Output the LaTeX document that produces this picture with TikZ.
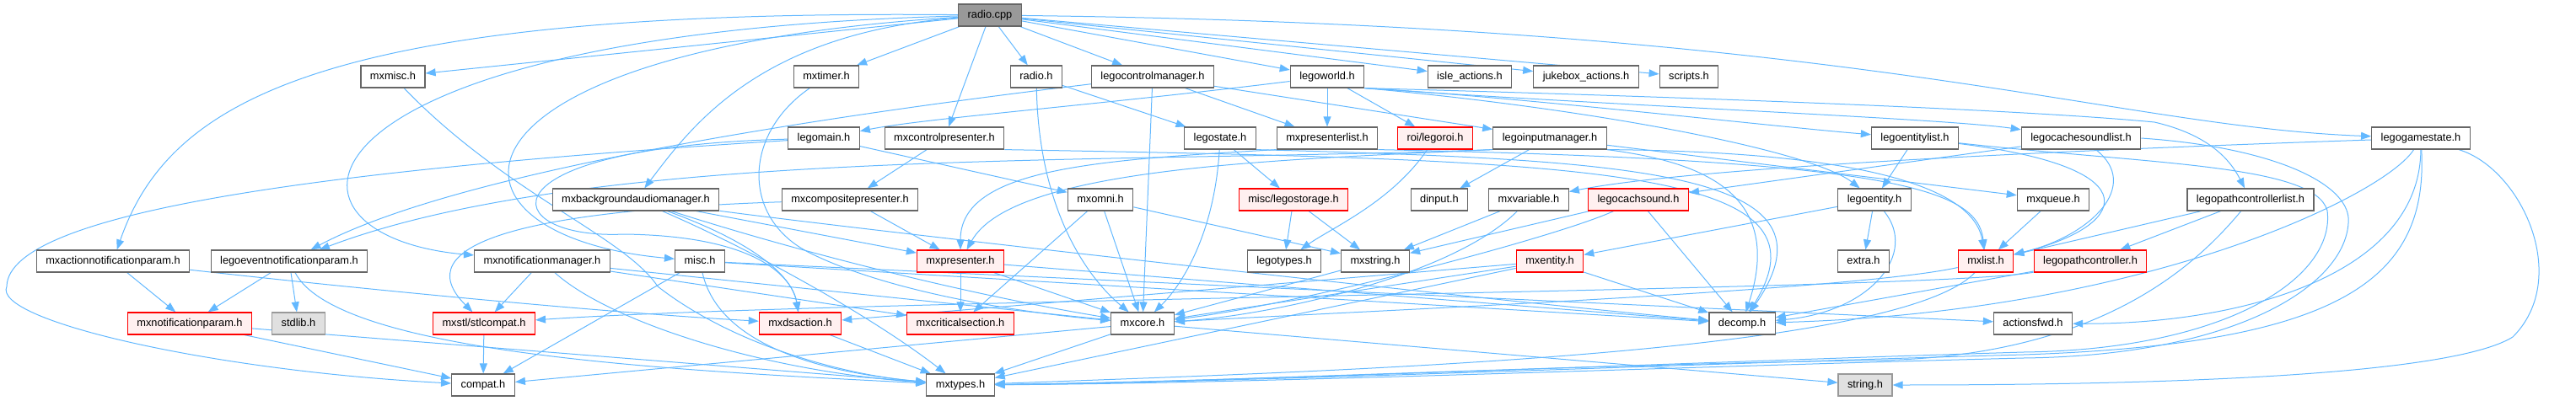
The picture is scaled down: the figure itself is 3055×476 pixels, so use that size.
\documentclass[tikz,border=0pt]{standalone}
\usepackage{fontspec}
\setmainfont{Liberation Sans}
\usetikzlibrary{arrows.meta,backgrounds}
\definecolor{edgeblue}{HTML}{63B8FF}
\definecolor{boxgray}{HTML}{666666}
\definecolor{hotfill}{HTML}{FFF0F0}
\definecolor{sysfill}{HTML}{E0E0E0}
\definecolor{sysdraw}{HTML}{999999}
\begin{document}
\begin{tikzpicture}[x=1pt,y=-1pt,
  file/.style={draw=boxgray,fill=white,line width=1.2pt,minimum height=26pt,inner xsep=11pt,inner ysep=0pt,
    text height=9.3pt,text depth=2.7pt,font=\fontsize{12.8}{14}\selectfont},
  hot/.style={file,draw=red,fill=hotfill},
  sys/.style={file,draw=sysdraw,fill=sysfill},
  root/.style={file,fill=sysdraw},
  dep/.style={draw=edgeblue,line width=1pt,-{Triangle[length=12pt,width=9pt]}}] %Início do grafo
  \useasboundingbox (0,0) rectangle (3055,476); %Margens
    %Arquivo principal
  \node[root] (cpp) at (1174,18) {radio.cpp};
    %Linha 1
  \node[file] (mxmisc) at (466,91) {mxmisc.h};
  \node[file] (mxtimer) at (980,91) {mxtimer.h};
  \node[file] (radioh) at (1229,91) {radio.h};
  \node[file] (legoctrlmgr) at (1367,91) {legocontrolmanager.h};
  \node[file] (legoworld) at (1574,91) {legoworld.h};
  \node[file] (isleact) at (1743,91) {isle\_actions.h};
  \node[file] (jukeact) at (1881,91) {jukebox\_actions.h};
  \node[file] (scripts) at (2003,91) {scripts.h};
    %Linha 2
  \node[file] (legomain) at (977,164) {legomain.h};
  \node[file] (mxctrlpres) at (1120,164) {mxcontrolpresenter.h};
  \node[file] (legostate) at (1447,164) {legostate.h};
  \node[file] (mxpreslist) at (1574,164) {mxpresenterlist.h};
  \node[hot] (legoroi) at (1702,164) {roi/legoroi.h};
  \node[file] (legoinputmgr) at (1838,164) {legoinputmanager.h};
  \node[file] (legoentitylist) at (2271,164) {legoentitylist.h};
  \node[file] (legocachesoundlist) at (2468,164) {legocachesoundlist.h};
  \node[file] (legogamestate) at (2871,164) {legogamestate.h};
    %Linha 3
  \node[file] (mxbgaudio) at (754,237) {mxbackgroundaudiomanager.h};
  \node[file] (mxcomppres) at (1008,237) {mxcompositepresenter.h};
  \node[file] (mxomni) at (1305,237) {mxomni.h};
  \node[hot] (legostorage) at (1534,237) {misc/legostorage.h};
  \node[file] (dinput) at (1707,237) {dinput.h};
  \node[file] (mxvariable) at (1813,237) {mxvariable.h};
  \node[hot] (legocachsound) at (1943,237) {legocachsound.h};
  \node[file] (legoentity) at (2223,237) {legoentity.h};
  \node[file] (mxqueue) at (2435,237) {mxqueue.h};
  \node[file] (legopathctrllist) at (2669,237) {legopathcontrollerlist.h};
    %Linha 4
  \node[file] (mxactionnot) at (134,310) {mxactionnotificationparam.h};
  \node[file] (legoevent) at (343,310) {legoeventnotificationparam.h};
  \node[file] (mxnotifmgr) at (643,310) {mxnotificationmanager.h};
  \node[file] (misc) at (830,310) {misc.h};
  \node[hot] (mxpresenter) at (1139,310) {mxpresenter.h};
  \node[file] (legotypes) at (1523,310) {legotypes.h};
  \node[file] (mxstring) at (1631,310) {mxstring.h};
  \node[hot] (mxentity) at (1838,310) {mxentity.h};
  \node[file] (extra) at (2210,310) {extra.h};
  \node[hot] (mxlist) at (2355,310) {mxlist.h};
  \node[hot] (legopathctrl) at (2479,310) {legopathcontroller.h};
    %Linha 5
  \node[hot] (mxnotifparam) at (225,384) {mxnotificationparam.h};
  \node[sys] (stdlib) at (354,384) {stdlib.h};
  \node[hot] (stlcompat) at (574,384) {mxstl/stlcompat.h};
  \node[hot] (mxdsaction) at (949,384) {mxdsaction.h};
  \node[hot] (mxcritsec) at (1139,384) {mxcriticalsection.h};
  \node[file] (mxcore) at (1355,384) {mxcore.h};
  \node[file] (decomp) at (2066,384) {decomp.h};
  \node[file] (actionsfwd) at (2411,384) {actionsfwd.h};
    %Linha 6
  \node[file] (compat) at (573,457) {compat.h};
  \node[file] (mxtypes) at (1139,457) {mxtypes.h};
  \node[sys] (stringh) at (2212,457) {string.h};
    %Arestas
  \begin{scope}[on background layer]
  \draw[dep] (cpp) -- (mxmisc);
  \draw[dep] (cpp) .. controls (380,10) and (200,120) .. (mxactionnot);
  \draw[dep] (cpp) .. controls (330,40) and (300,280) .. (mxnotifmgr);
  \draw[dep] (cpp) .. controls (500,60) and (500,280) .. (misc);
  \draw[dep] (cpp) .. controls (900,40) and (820,150) .. (mxbgaudio);
  \draw[dep] (cpp) -- (mxtimer);
  \draw[dep] (cpp) -- (mxctrlpres);
  \draw[dep] (cpp) -- (radioh);
  \draw[dep] (cpp) -- (legoctrlmgr);
  \draw[dep] (cpp) -- (legoworld);
  \draw[dep] (cpp) -- (isleact);
  \draw[dep] (cpp) -- (jukeact);
  \draw[dep] (cpp) -- (scripts);
  \draw[dep] (cpp) .. controls (2200,30) and (2500,150) .. (legogamestate);
    %Linha 1
  \draw[dep] (mxmisc) .. controls (600,230) and (740,280) .. (780,340) .. controls (870,410) and (1000,445) .. (mxtypes);
  \draw[dep] (mxtimer) .. controls (880,160) and (880,260) .. (960,300) .. controls (1050,345) and (1200,370) .. (mxcore);
  \draw[dep] (radioh) -- (legostate);
  \draw[dep] (radioh) .. controls (1232,250) and (1290,330) .. (mxcore);
  \draw[dep] (legoctrlmgr) .. controls (1000,135) and (550,200) .. (legoevent);
  \draw[dep] (legoctrlmgr) -- (legoinputmgr);
  \draw[dep] (legoctrlmgr) -- (mxpreslist);
  \draw[dep] (legoctrlmgr) -- (mxcore);
  \draw[dep] (legoworld) .. controls (1300,125) and (1100,140) .. (legomain);
  \draw[dep] (legoworld) -- (mxpreslist);
  \draw[dep] (legoworld) -- (legoroi);
  \draw[dep] (legoworld.south east) .. controls (1800,115) and (2100,150) .. (legoentitylist);
  \draw[dep] (legoworld.south east) .. controls (1900,125) and (2300,140) .. (legocachesoundlist);
  \draw[dep] (legoworld.south east) .. controls (1900,130) and (2150,180) .. (legoentity);
  \draw[dep] (legoworld.south east) .. controls (2000,115) and (2400,130) .. (2555,145) .. controls (2620,160) and (2645,190) .. (legopathctrllist);
    %Linha 2
  \draw[dep] (legomain) .. controls (400,200) and (10,250) .. (8,340) .. controls (-10,380) and (250,440) .. (compat);
  \draw[dep] (legomain) .. controls (560,175) and (590,285) .. (740,278) .. controls (900,280) and (940,330) .. (mxdsaction);
  \draw[dep] (legomain) -- (mxomni);
  \draw[dep] (mxctrlpres) -- (mxcomppres);
  \draw[dep] (mxctrlpres.south east) .. controls (1900,190) and (2180,200) .. (decomp);
  \draw[dep] (legostate) -- (legostorage);
  \draw[dep] (legostate) .. controls (1440,280) and (1400,340) .. (mxcore);
  \draw[dep] (legostate.south east) .. controls (1950,190) and (2190,205) .. (decomp);
  \draw[dep] (mxpreslist.south west) .. controls (1300,190) and (1139,200) .. (mxpresenter);
  \draw[dep] (mxpreslist.south east) .. controls (2250,190) and (2345,225) .. (mxlist);
  \draw[dep] (legoroi) .. controls (1650,240) and (1580,270) .. (legotypes);
  \draw[dep] (legoinputmgr) -- (dinput);
  \draw[dep] (legoinputmgr.south west) .. controls (1300,195) and (700,175) .. (legoevent);
  \draw[dep] (legoinputmgr.south west) .. controls (1500,190) and (1200,200) .. (mxpresenter);
  \draw[dep] (legoinputmgr.south east) .. controls (2200,180) and (2340,220) .. (mxlist);
  \draw[dep] (legoinputmgr) -- (mxqueue);
  \draw[dep] (legoinputmgr.south east) .. controls (2000,190) and (2120,220) .. (decomp);
  \draw[dep] (legoentitylist) -- (legoentity);
  \draw[dep] (legoentitylist) .. controls (2560,200) and (2520,270) .. (mxlist);
  \draw[dep] (legoentitylist) .. controls (2550,195) and (2745,195) .. (2760,250) .. controls (2770,330) and (2640,415) .. (2400,418) .. controls (2000,430) and (1500,452) .. (mxtypes);
  \draw[dep] (legocachesoundlist) -- (legocachsound);
  \draw[dep] (legocachesoundlist) .. controls (2540,220) and (2480,280) .. (mxlist);
  \draw[dep] (legocachesoundlist.east) .. controls (2700,175) and (2790,220) .. (2785,265) .. controls (2780,340) and (2650,422) .. (2400,425) .. controls (2000,435) and (1500,455) .. (mxtypes);
  \draw[dep] (legogamestate) .. controls (2400,180) and (2000,200) .. (mxvariable);
  \draw[dep] (legogamestate) .. controls (2830,230) and (2550,370) .. (decomp);
  \draw[dep] (legogamestate) .. controls (2870,330) and (2650,385) .. (actionsfwd);
  \draw[dep] (legogamestate) .. controls (2880,330) and (2780,408) .. (2400,421) .. controls (2000,432) and (1500,453) .. (mxtypes);
  \draw[dep] (legogamestate) .. controls (2990,200) and (3050,330) .. (2980,400) .. controls (2900,450) and (2500,457) .. (stringh);
    %Linha 3
  \draw[dep] (mxbgaudio) .. controls (900,290) and (940,330) .. (mxdsaction);
  \draw[dep] (mxbgaudio) -- (mxpresenter);
  \draw[dep] (mxbgaudio) .. controls (950,300) and (1150,350) .. (mxcore);
  \draw[dep] (mxbgaudio) .. controls (900,300) and (1040,380) .. (mxtypes);
  \draw[dep] (mxbgaudio) .. controls (1000,270) and (1700,350) .. (decomp);
  \draw[dep] (mxcomppres) -- (mxpresenter);
  \draw[dep] (mxcomppres) .. controls (620,250) and (480,290) .. (stlcompat);
  \draw[dep] (mxomni) -- (mxcritsec);
  \draw[dep] (mxomni) -- (mxcore);
  \draw[dep] (mxomni) -- (mxstring);
  \draw[dep] (legostorage) -- (legotypes);
  \draw[dep] (legostorage) -- (mxstring);
  \draw[dep] (mxvariable) -- (mxstring);
  \draw[dep] (mxvariable) .. controls (1720,330) and (1500,375) .. (mxcore);
  \draw[dep] (legocachsound) -- (mxstring);
  \draw[dep] (legocachsound) .. controls (1850,280) and (1550,360) .. (mxcore);
  \draw[dep] (legocachsound) -- (decomp);
  \draw[dep] (legoentity) -- (extra);
  \draw[dep] (legoentity) -- (mxentity);
  \draw[dep] (legoentity) .. controls (2275,300) and (2220,370) .. (decomp);
  \draw[dep] (mxqueue) -- (mxlist);
  \draw[dep] (legopathctrllist) -- (legopathctrl);
  \draw[dep] (legopathctrllist) -- (mxlist);
  \draw[dep] (legopathctrllist) .. controls (2600,320) and (2480,430) .. (2200,428) .. controls (1800,435) and (1400,455) .. (mxtypes);
    %Linha 4
  \draw[dep] (mxactionnot) -- (mxnotifparam);
  \draw[dep] (mxactionnot) .. controls (400,340) and (700,370) .. (mxdsaction);
  \draw[dep] (legoevent) -- (mxnotifparam);
  \draw[dep] (legoevent) -- (stdlib);
  \draw[dep] (legoevent) .. controls (400,420) and (800,440) .. (mxtypes);
  \draw[dep] (mxnotifmgr) -- (stlcompat);
  \draw[dep] (mxnotifmgr) .. controls (720,380) and (900,440) .. (mxtypes);
  \draw[dep] (mxnotifmgr) -- (mxcore);
  \draw[dep] (mxnotifmgr) -- (mxcritsec);
  \draw[dep] (misc) -- (compat);
  \draw[dep] (misc) .. controls (850,400) and (950,440) .. (mxtypes);
  \draw[dep] (misc) -- (decomp);
  \draw[dep] (misc) -- (actionsfwd);
  \draw[dep] (mxpresenter) -- (mxcritsec);
  \draw[dep] (mxpresenter) -- (mxcore);
  \draw[dep] (mxpresenter) -- (decomp);
  \draw[dep] (mxstring) -- (mxcore);
  \draw[dep] (mxentity) -- (mxcore);
  \draw[dep] (mxentity) -- (mxdsaction);
  \draw[dep] (mxentity) -- (mxtypes);
  \draw[dep] (mxentity) -- (decomp);
  \draw[dep] (mxlist) .. controls (2200,345) and (1600,370) .. (mxcore);
  \draw[dep] (mxlist) .. controls (2250,420) and (1600,440) .. (mxtypes);
  \draw[dep] (legopathctrl) -- (decomp);
  \draw[dep] (legopathctrl) .. controls (2300,345) and (1000,355) .. (stlcompat);
    %Linha 5
  \draw[dep] (mxnotifparam) -- (compat);
  \draw[dep] (mxnotifparam) -- (mxtypes);
  \draw[dep] (stlcompat) -- (compat);
  \draw[dep] (mxdsaction) -- (mxtypes);
  \draw[dep] (mxcore) -- (compat);
  \draw[dep] (mxcore) -- (mxtypes);
  \draw[dep] (mxcore) -- (stringh);
  \end{scope}
\end{tikzpicture}
\end{document}
